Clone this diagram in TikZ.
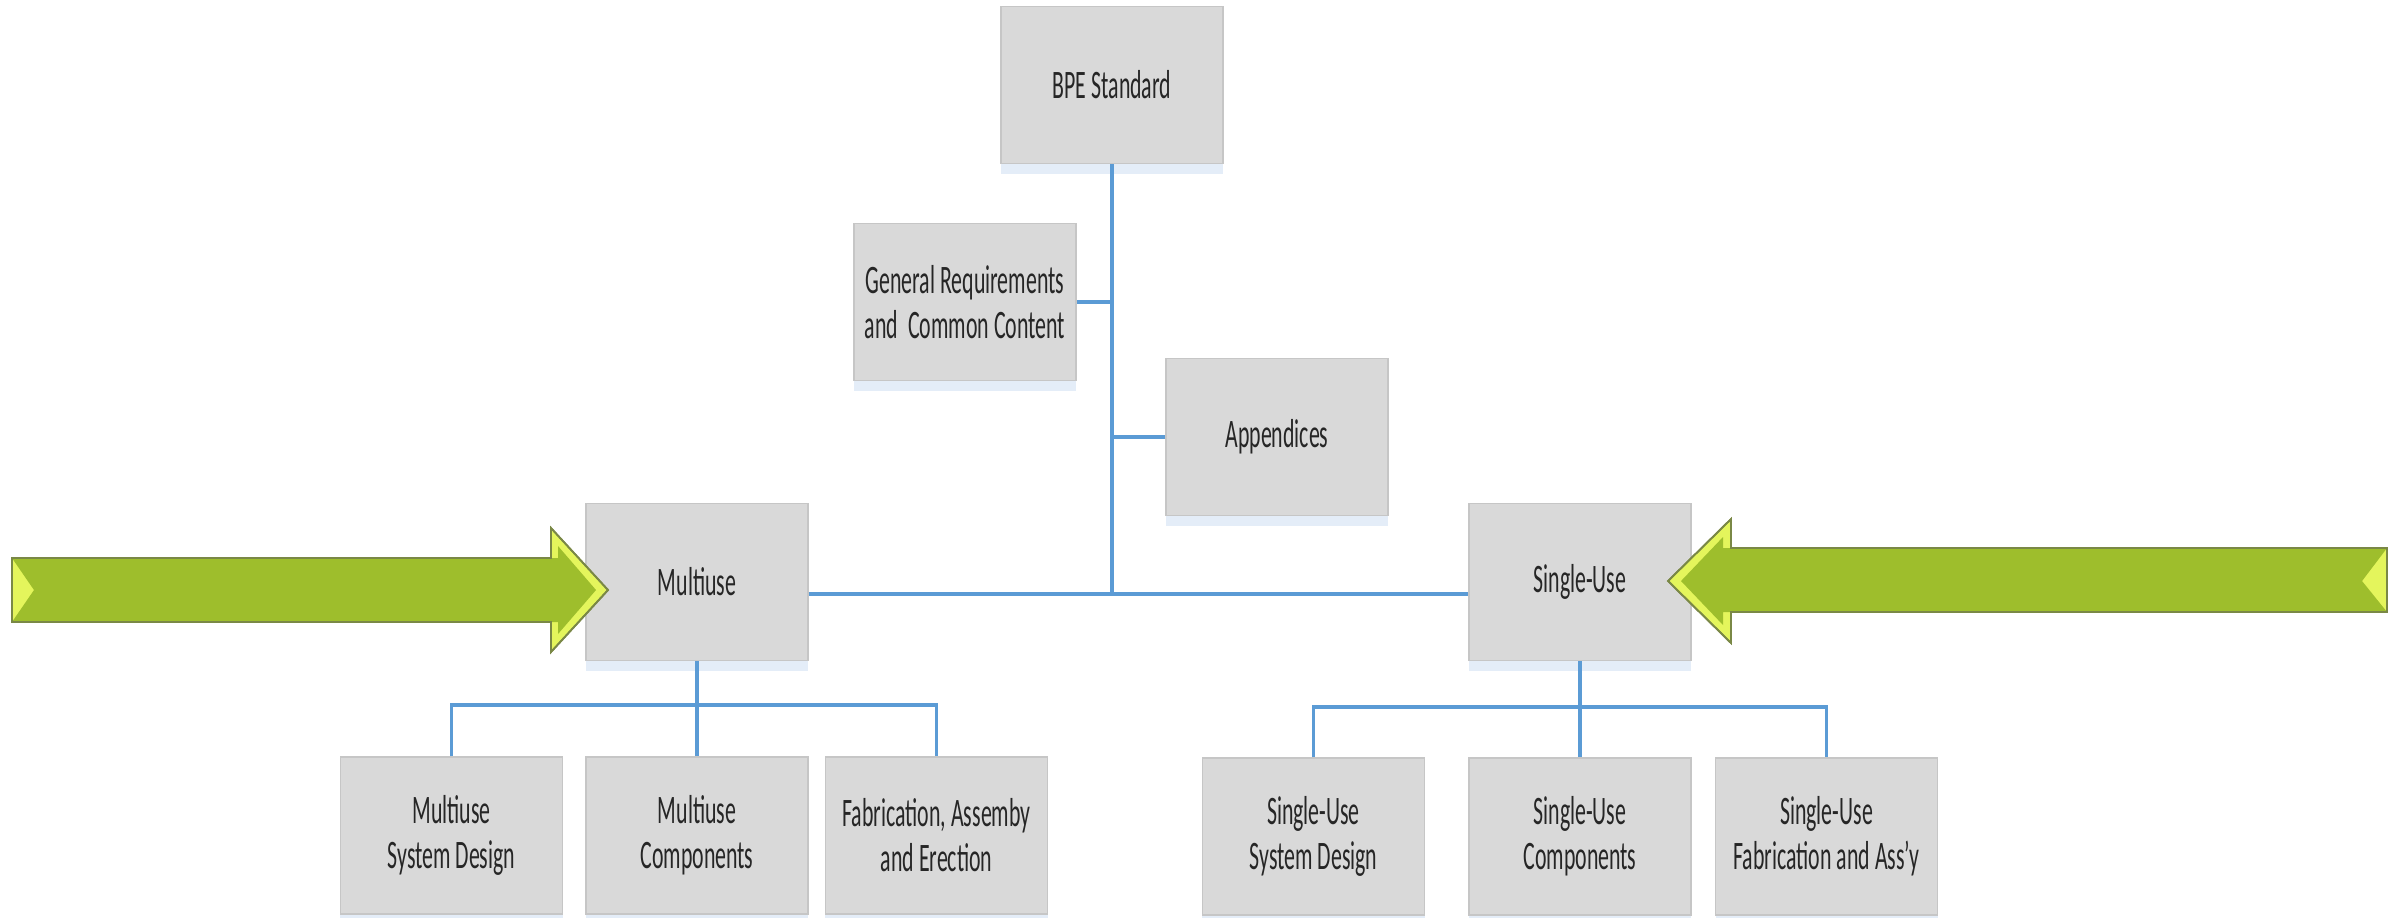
\documentclass[tikz,border=0pt]{standalone}
\usepackage{fontspec}
\setmainfont[FakeStretch=0.54]{Carlito}
\usepackage{xcolor}
\usetikzlibrary{positioning,shadows}

\definecolor{boxgrey}{RGB}{217,217,217}
\definecolor{boxedge}{RGB}{198,198,198}
\definecolor{linkblue}{RGB}{91,155,213}
\definecolor{limedark}{RGB}{158,190,44}
\definecolor{limemid}{RGB}{180,212,58}
\definecolor{limelight}{RGB}{228,245,92}
\definecolor{limeedge}{RGB}{122,136,70}
\definecolor{glow}{RGB}{228,237,248}

\begin{document}
\begin{tikzpicture}[
    x=0.01cm, y=-0.01cm,
    box/.style={draw=boxedge, fill=boxgrey, line width=0.4pt, align=center, minimum width=2.22cm, minimum height=1.57cm, inner sep=2pt, text=black!85, font=\fontsize{11.5}{12.8}\selectfont, drop shadow={shadow xshift=0pt, shadow yshift=-3pt, fill=glow, opacity=1}},
    link/.style={draw=linkblue, line width=0.9pt},
    bigarrow/.style={fill=limelight, draw=limeedge, line width=0.5pt, line join=miter},
    arrowbody/.style={top color=limedark, middle color=limemid, bottom color=limedark}
]
\useasboundingbox (0,0) rectangle (2395,917);

\node[box] (bpe) at (1112,85) {BPE Standard};
\node[box] (general) at (965,302) {General Requirements\\and\ \ Common Content};
\node[box] (appx) at (1277,437) {Appendices};
\node[box] (multi) at (697,582) {Multiuse};
\node[box] (single) at (1580,582) {Single-Use};

\node[box, below=0.95cm of multi] (mu2) {Multiuse\\Components};
\node[box, left=0.22cm of mu2] (mu1) {Multiuse\\System Design};
\node[box, right=0.16cm of mu2] (mu3) {Fabrication, Assemby\\and Erection};

\node[box, below=0.96cm of single] (su2) {Single-Use\\Components};
\node[box, left=0.43cm of su2] (su1) {Single-Use\\System Design};
\node[box, right=0.23cm of su2] (su3) {Single-Use\\Fabrication and Ass’y};

\coordinate (hub) at (1112,594);
\coordinate (mubar) at (697,705);
\coordinate (subar) at (1580,707);

\draw[link] (bpe) -- (hub);
\draw[link] (general) -- (general -| hub);
\draw[link] (appx) -- (appx -| hub);
\draw[link] (multi.east |- hub) -- (single.west |- hub);
\draw[link] (multi) -- (mu2);
\draw[link] (mu1) |- (mubar) -| (mu3);
\draw[link] (single) -- (su2);
\draw[link] (su1) |- (subar) -| (su3);

% left arrow
\path[bigarrow] (12,558) -- (551,558) -- (551,528) -- (608,590) -- (551,652) -- (551,622) -- (12,622) -- cycle;
\shade[arrowbody] (12,558) -- (558,558) -- (558,546) -- (596,590) -- (558,634) -- (558,622) -- (12,622) -- (34,590) -- cycle;
\draw[limeedge, line width=0.5pt] (12,558) -- (551,558) -- (551,528) -- (608,590) -- (551,652) -- (551,622) -- (12,622) -- cycle;

% right arrow
\path[bigarrow] (2387,548) -- (1731,548) -- (1731,519) -- (1668,581) -- (1731,643) -- (1731,612) -- (2387,612) -- cycle;
\shade[arrowbody] (2387,548) -- (1723,548) -- (1723,537) -- (1681,581) -- (1723,625) -- (1723,612) -- (2387,612) -- (2362,581) -- cycle;
\draw[limeedge, line width=0.5pt] (2387,548) -- (1731,548) -- (1731,519) -- (1668,581) -- (1731,643) -- (1731,612) -- (2387,612) -- cycle;
\end{tikzpicture}
\end{document}
